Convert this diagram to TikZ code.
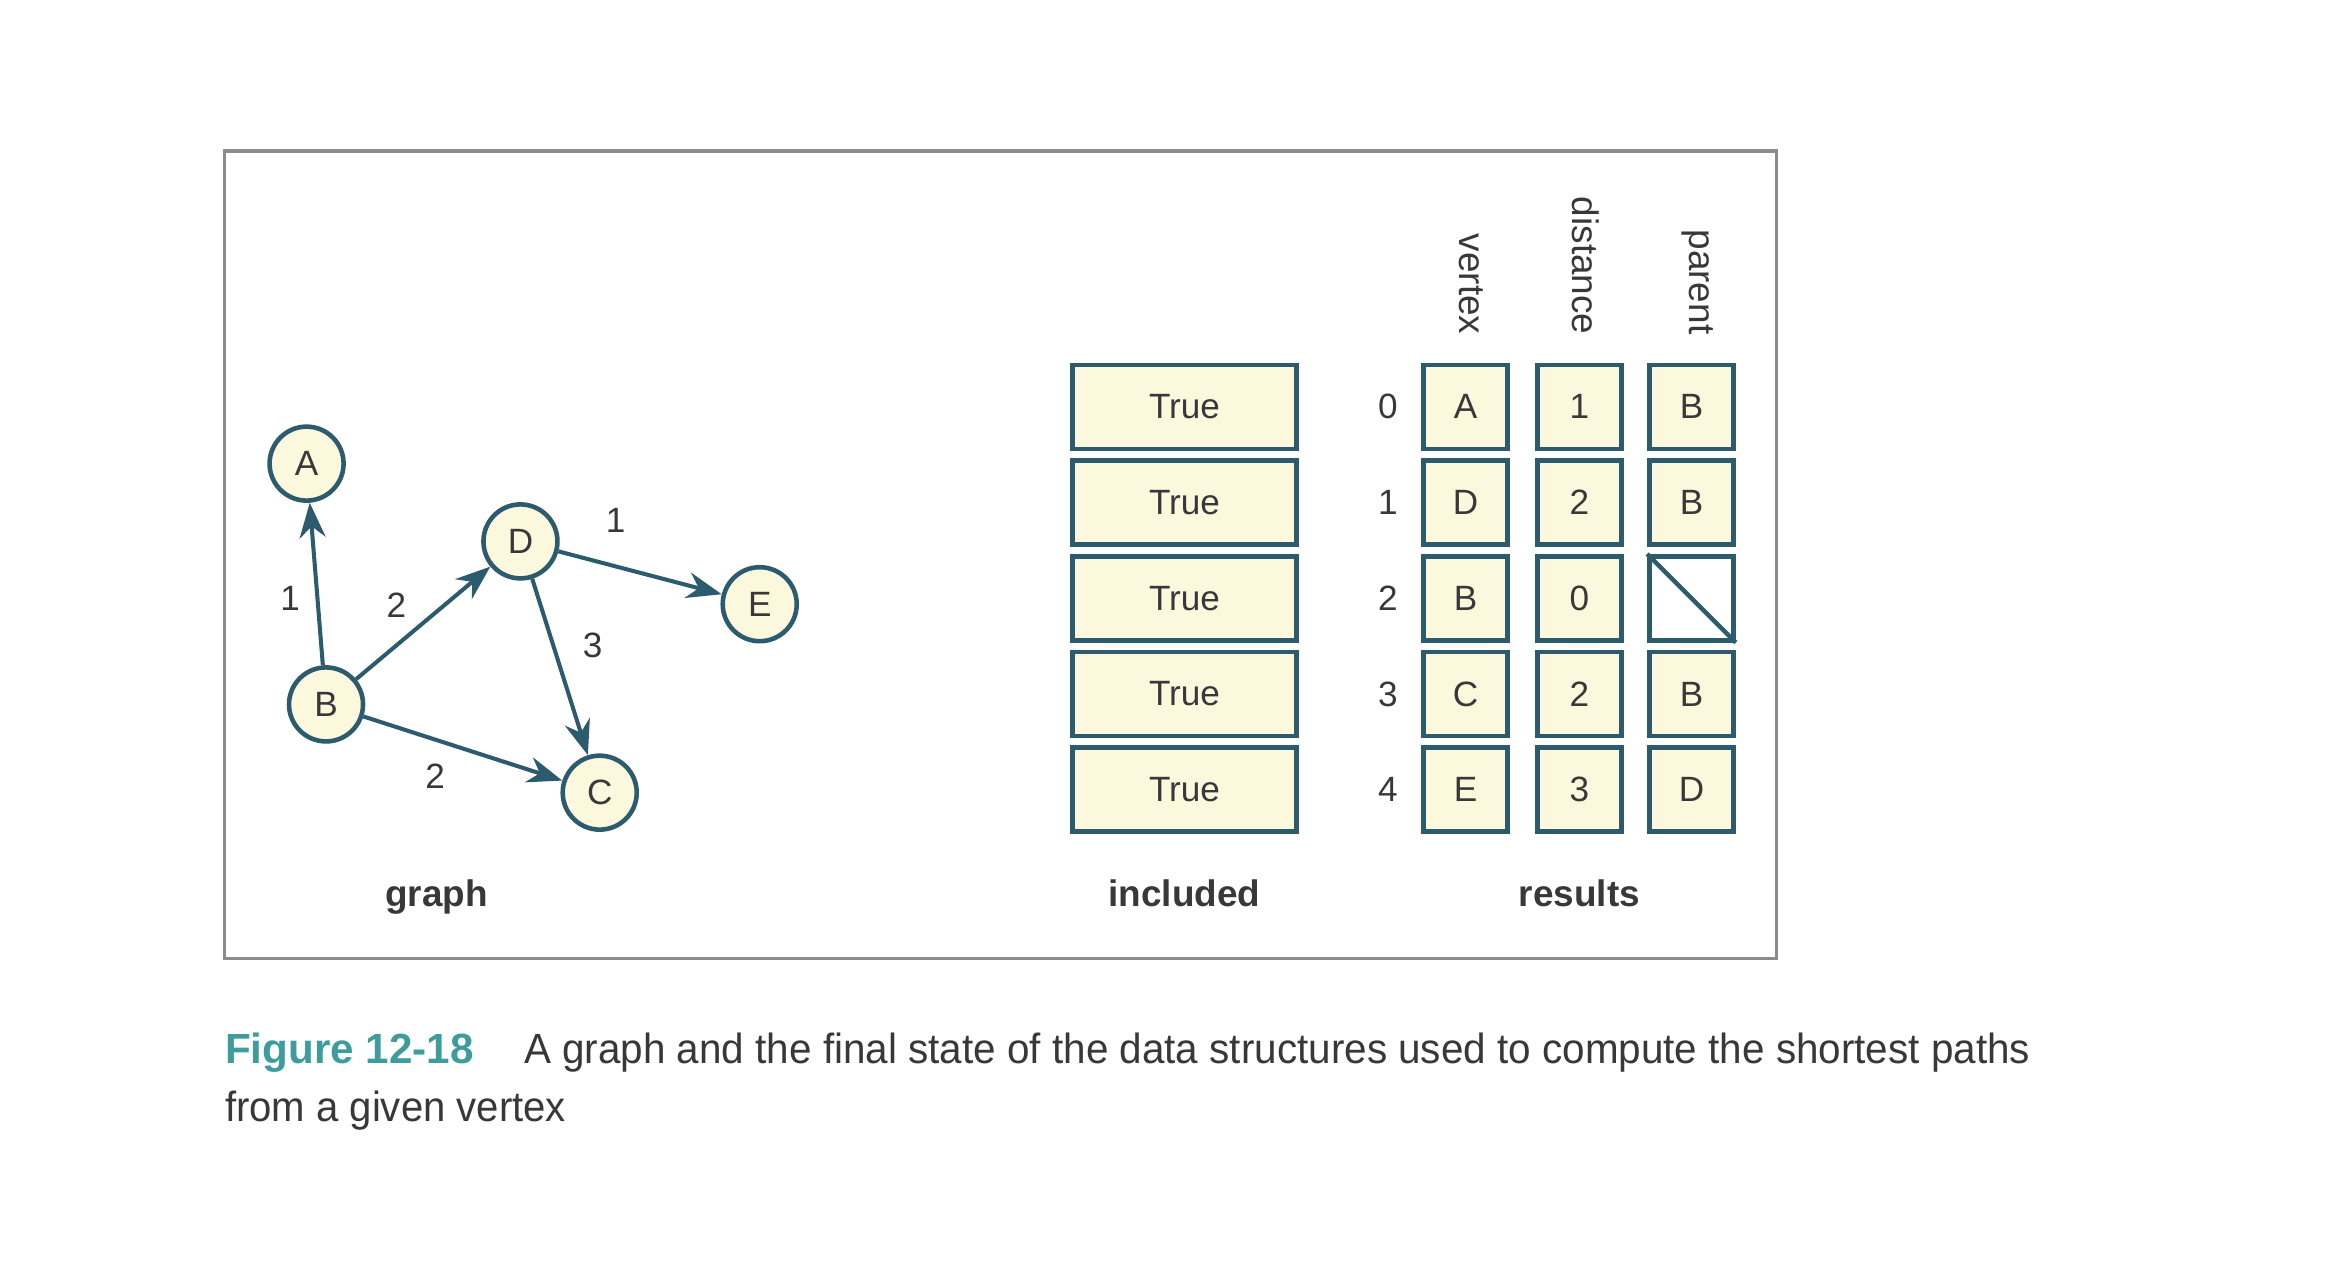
\documentclass[tikz,border=0pt]{standalone}
\usepackage{fontspec}
\setmainfont{Liberation Sans}
\usetikzlibrary{automata,arrows.meta}

\definecolor{boxline}{HTML}{2C5B6E}
\definecolor{boxfill}{HTML}{FBF8DE}
\definecolor{figteal}{HTML}{3E9C9C}
\definecolor{txtgray}{HTML}{383838}
\definecolor{framegray}{HTML}{8C8C8C}

\begin{document}
\begin{tikzpicture}[x=0.14955mm, y=-0.14955mm, font=\fontsize{10}{12}\selectfont,
  every state/.style={draw=boxline, fill=boxfill, line width=1.3pt, minimum size=7.4mm, inner sep=0pt, text=txtgray},
  cell/.style={draw=boxline, fill=boxfill, line width=1.3pt, minimum width=8.4mm, minimum height=8.4mm, inner sep=0pt, text=txtgray},
  flag/.style={cell, minimum width=22.4mm},
  edge/.style={draw=boxline, line width=1.15pt, -{Stealth[length=3.5mm,width=2.6mm]}},
  wt/.style={text=txtgray, inner sep=1pt},
  title/.style={font=\fontsize{10.5}{12}\selectfont\bfseries, text=txtgray},
  head/.style={rotate=-90, anchor=east, inner sep=0pt, text=txtgray, font=\fontsize{10.5}{12}\selectfont}]

\useasboundingbox (0,0) rectangle (1568,860);

\draw[framegray, line width=1pt] (150,101) rectangle (1188,641);

% graph
\node[state] (A) at (205,310) {A};
\node[state] (D) at (348,362) {D};
\node[state] (E) at (508,404) {E};
\node[state] (B) at (218,471) {B};
\node[state] (C) at (401,530) {C};

\draw[edge] (B) -- node[wt, pos=0.41, left=1.2mm] {1} (A);
\draw[edge] (B) -- node[wt, pos=0.3, above=2.2mm] {2} (D);
\draw[edge] (D) -- node[wt, pos=0.35, above=2.8mm] {1} (E);
\draw[edge] (D) -- node[wt, pos=0.38, right=2.4mm] {3} (C);
\draw[edge] (B) -- node[wt, pos=0.36, below=1.9mm] {2} (C);

\node[title] (t_graph) at (292,600) {graph};

% included
\node[flag] (incl_0) at (792,272) {True};
\node[flag] (incl_1) at (792,336) {True};
\node[flag] (incl_2) at (792,400) {True};
\node[flag] (incl_3) at (792,464) {True};
\node[flag] (incl_4) at (792,528) {True};
\node[title] (t_incl) at (792,597) {included};

% results
\node[head] (h_vert) at (984,224) {vertex};
\node[head] (h_dist) at (1060,224) {distance};
\node[head] (h_par) at (1135,224) {parent};

\node[text=txtgray] (idx_0) at (928,272) {0};
\node[text=txtgray] (idx_1) at (928,336) {1};
\node[text=txtgray] (idx_2) at (928,400) {2};
\node[text=txtgray] (idx_3) at (928,464) {3};
\node[text=txtgray] (idx_4) at (928,528) {4};

\node[cell] (vert_0) at (980,272) {A};
\node[cell] (vert_1) at (980,336) {D};
\node[cell] (vert_2) at (980,400) {B};
\node[cell] (vert_3) at (980,464) {C};
\node[cell] (vert_4) at (980,528) {E};

\node[cell] (dist_0) at (1056,272) {1};
\node[cell] (dist_1) at (1056,336) {2};
\node[cell] (dist_2) at (1056,400) {0};
\node[cell] (dist_3) at (1056,464) {2};
\node[cell] (dist_4) at (1056,528) {3};

\node[cell] (par_0) at (1131,272) {B};
\node[cell] (par_1) at (1131,336) {B};
\node[cell, fill=white] (par_2) at (1131,400) {};
\node[cell] (par_3) at (1131,464) {B};
\node[cell] (par_4) at (1131,528) {D};
\draw[boxline, line width=1.3pt] (par_2.north west) -- (par_2.south east);

\node[title] (t_res) at (1056,597) {results};

% caption
\node[anchor=base west, inner sep=0pt, text=figteal, font=\fontsize{12}{14}\selectfont\bfseries] (fig_no) at (150,711) {Figure 12-18};
\node[anchor=base west, inner sep=0pt, text=txtgray, font=\fontsize{12}{14}\selectfont] (cap_1) at (350,711)
  {\resizebox{150.6mm}{\height}{A graph and the final state of the data structures used to compute the shortest paths}};
\node[anchor=base west, inner sep=0pt, text=txtgray, font=\fontsize{12}{14}\selectfont] (cap_2) at (150,750)
  {\resizebox{34.1mm}{\height}{from a given vertex}};
\end{tikzpicture}
\end{document}
